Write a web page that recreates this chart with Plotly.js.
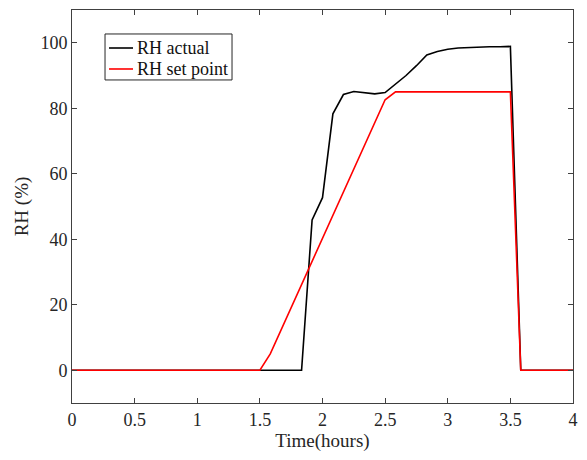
<!DOCTYPE html>
<html>
<head>
<meta charset="utf-8">
<script src="https://cdn.plot.ly/plotly-3.0.1.min.js"></script>
<style>html,body{margin:0;padding:0;background:#fff;}#chart{width:587px;height:460px;}</style>
</head>
<body>
<div id="chart"></div>
<script>
var actualTime = [0, 1.833, 1.917, 2.0, 2.083, 2.167, 2.25, 2.333, 2.417, 2.5, 2.583, 2.667, 2.75, 2.833, 2.917, 3.0, 3.083, 3.167, 3.25, 3.333, 3.417, 3.5, 3.583, 4.0];
var actualRH = [0, 0, 45.9, 52.7, 78.3, 84.2, 85.1, 84.8, 84.4, 84.8, 87.4, 90.0, 93.0, 96.3, 97.3, 98.0, 98.4, 98.6, 98.7, 98.8, 98.8, 98.9, 0, 0];
var setTime = [0, 1.5, 1.583, 2.5, 2.583, 3.5, 3.583, 4.0];
var setRH = [0, 0, 5.0, 82.6, 85, 85, 0, 0];
var xTicks = [0, 0.5, 1, 1.5, 2, 2.5, 3, 3.5, 4];
var xTickLabels = ['0', '0.5', '1', '1.5', '2', '2.5', '3', '3.5', '4'];
var yTicks = [0, 20, 40, 60, 80, 100];
var seriesNames = ['RH actual', 'RH set point'];
var seriesColors = ['#000000', '#ff0000'];

var fam = 'Liberation Serif, Times New Roman, serif';
var txtColor = '#262626';
var tickFont = {family: fam, size: 18, color: txtColor};
var traces = [
  {x: actualTime, y: actualRH, type: 'scatter', mode: 'lines', name: seriesNames[0], line: {color: seriesColors[0], width: 1.6}},
  {x: setTime, y: setRH, type: 'scatter', mode: 'lines', name: seriesNames[1], line: {color: seriesColors[1], width: 1.6}}
];
var axisCommon = {showline: true, linecolor: '#404040', linewidth: 1, mirror: 'ticks', ticks: 'inside', ticklen: 5, tickcolor: '#404040', showgrid: false, zeroline: false, tickfont: tickFont};

// custom MATLAB-style legend (paper coordinates)
var legBox = {x0: 0.0659, x1: 0.3194, y0: 0.822, y1: 0.939};
var legRows = [0.9033, 0.8499];
var shapes = [{type: 'rect', xref: 'paper', yref: 'paper', x0: legBox.x0, x1: legBox.x1, y0: legBox.y0, y1: legBox.y1, line: {color: '#262626', width: 1}, fillcolor: '#ffffff', layer: 'above'}];
var annotations = [];
for (var i = 0; i < seriesNames.length; i++) {
  shapes.push({type: 'line', xref: 'paper', yref: 'paper', x0: 0.0739, x1: 0.1218, y0: legRows[i], y1: legRows[i], line: {color: seriesColors[i], width: 1.6}, layer: 'above'});
  annotations.push({xref: 'paper', yref: 'paper', x: 0.1258, y: legRows[i], xanchor: 'left', yanchor: 'middle', showarrow: false, text: seriesNames[i], font: {family: fam, size: 18, color: '#111'}});
}

var layout = {
  width: 587, height: 460,
  margin: {l: 72, r: 14, t: 10, b: 57},
  paper_bgcolor: '#fff', plot_bgcolor: '#fff',
  font: tickFont,
  xaxis: Object.assign({}, axisCommon, {range: [0, 4], tickvals: xTicks, ticktext: xTickLabels, title: {text: 'Time(hours)', font: {family: fam, size: 19, color: txtColor}, standoff: 2}}),
  yaxis: Object.assign({}, axisCommon, {range: [-10, 110], tickvals: yTicks, title: {text: 'RH (%)', font: {family: fam, size: 19, color: txtColor}, standoff: 6}}),
  showlegend: false,
  shapes: shapes,
  annotations: annotations
};
Plotly.newPlot('chart', traces, layout, {displayModeBar: false, staticPlot: true});
</script>
</body>
</html>
